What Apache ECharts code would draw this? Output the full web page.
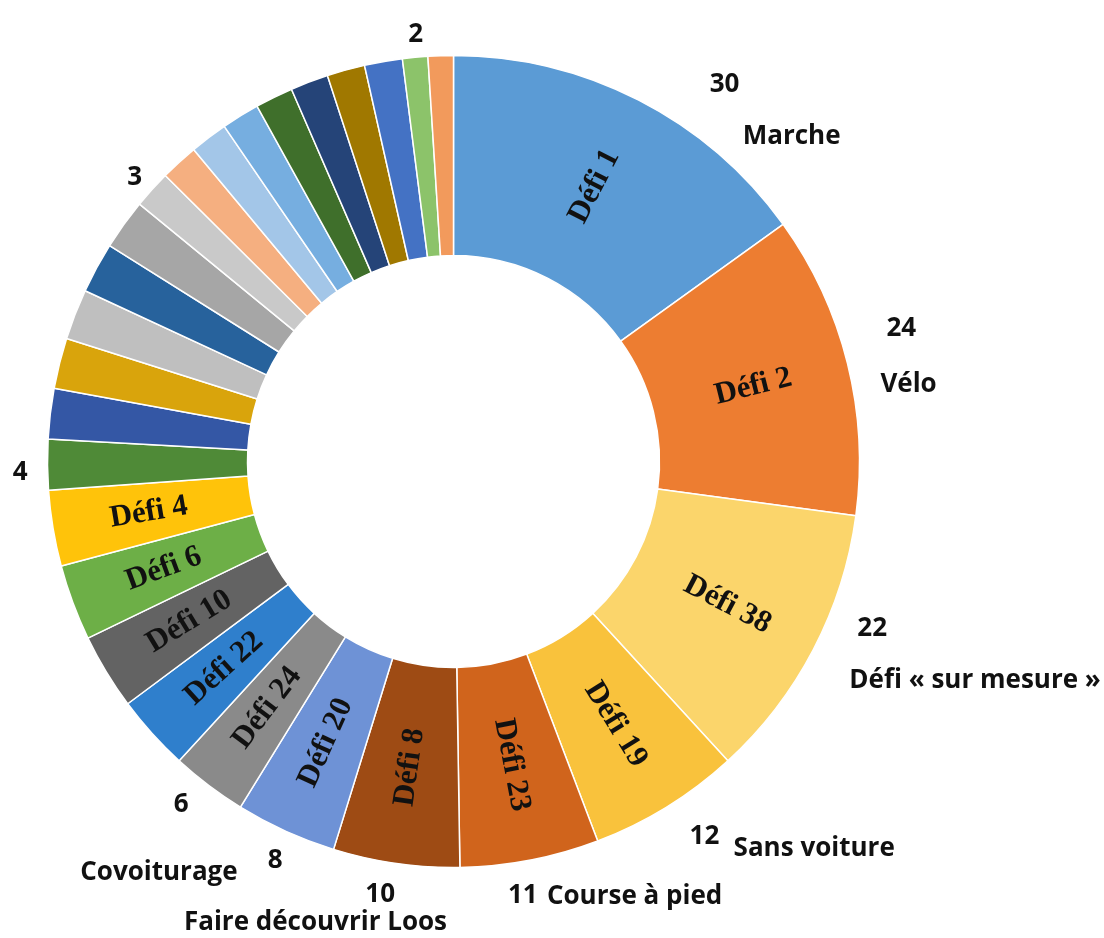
<!DOCTYPE html>
<html>
<head>
<meta charset="utf-8">
<script src="https://cdn.jsdelivr.net/npm/echarts@6/dist/echarts.min.js"></script>
<style>
html,body{margin:0;padding:0;background:#ffffff;}
#chart{width:1104px;height:938px;}
</style>
</head>
<body>
<div id="chart"></div>
<script>
// ---------- DATA ----------
// Slices in clockwise order starting at 12 o'clock
const defiLabels = ['Défi 1','Défi 2','Défi 38','Défi 19','Défi 23','Défi 8','Défi 20','Défi 24','Défi 22','Défi 10','Défi 6','Défi 4',
  '','','','','','','','','','','','','','','',''];
const values = [30,24,22,12,11,10,8,6,6,6,6,6,
  4,4,4,4,4,4,3,3,3,3,3,3,3,3,2,2];
const categoryNames = ['Marche','Vélo','Défi « sur mesure »','Sans voiture','Course à pied','Faire découvrir Loos','Covoiturage',
  '','','','','','','','','','','','','','','','','','','','',''];
// which slices carry a value label
const valueLabelShown = [true,true,true,true,true,true,true,true,false,false,false,false,
  true,false,false,false,false,false,true,false,false,false,false,false,false,false,true,false];

// ---------- STYLE / LAYOUT ----------
const colors = ['#5B9BD5','#ED7D31','#FBD56B','#F9C23C','#D0641C','#9E4B14','#6E92D6','#8A8A8A','#2F7FCC','#636363','#6DAF47','#FFC30A',
  '#4F8A37','#3457A5','#D9A40C','#BFBFBF','#27629C','#A6A6A6','#C9C9C9','#F5AF80','#A3C6E8','#76AEE0','#3F6F2B','#254478','#A07800','#4472C4','#8CC36A','#F29A5C'];
const valueOffsets = {0:[71,-16],1:[39,-35],2:[44,-21],3:[23,30],4:[-22,35],5:[-1,31],6:[-3,29],7:[-20,19],12:[-20,8],18:[-10,-12],26:[8,-23]};
const nameOffsets = {0:[104,36],1:[33,21],2:[36,31],3:[67,42],4:[17,36],5:[51,59],6:[-48,41]};

const CENTER = [453.5, 461.5];
const RADIUS = [206, 406];
const sansFont = 'Open Sans';

const chart = echarts.init(document.getElementById('chart'), null, {renderer:'canvas'});

const mainData = values.map((v,i)=>({
  value: v,
  name: defiLabels[i] || ('s' + i),
  itemStyle: {color: colors[i]},
  label: {show: !!defiLabels[i], formatter: defiLabels[i]}
}));
const valueData = values.map((v,i)=>({
  value: v,
  name: 'v' + i,
  label: {show: valueLabelShown[i]}
}));
const nameData = values.map((v,i)=>({
  value: v,
  name: 'n' + i,
  label: {show: !!categoryNames[i], formatter: categoryNames[i]}
}));

const outsideLabel = {
  position: 'outside',
  color: '#111',
  fontFamily: sansFont,
  fontWeight: 'bold',
  fontSize: 26,
  distanceToLabelLine: 0
};
const hiddenLine = {show:false, length:0, length2:0};

chart.setOption({
  backgroundColor: '#ffffff',
  animation: false,
  series: [
    {
      type: 'pie',
      center: CENTER,
      radius: RADIUS,
      startAngle: 90,
      clockwise: true,
      avoidLabelOverlap: false,
      silent: true,
      data: valueData,
      itemStyle: {color: 'rgba(0,0,0,0)', borderWidth: 0},
      label: Object.assign({formatter: '{c}'}, outsideLabel),
      labelLine: hiddenLine,
      labelLayout: function(p){ const o = valueOffsets[p.dataIndex]; return o ? {dx:o[0], dy:o[1]} : {}; },
      z: 1
    },
    {
      type: 'pie',
      center: CENTER,
      radius: RADIUS,
      startAngle: 90,
      clockwise: true,
      avoidLabelOverlap: false,
      silent: true,
      data: nameData,
      itemStyle: {color: 'rgba(0,0,0,0)', borderWidth: 0},
      label: Object.assign({}, outsideLabel),
      labelLine: hiddenLine,
      labelLayout: function(p){ const o = nameOffsets[p.dataIndex]; return o ? {dx:o[0], dy:o[1]} : {}; },
      z: 1
    },
    {
      type: 'pie',
      center: CENTER,
      radius: RADIUS,
      startAngle: 90,
      clockwise: true,
      avoidLabelOverlap: false,
      silent: true,
      data: mainData,
      itemStyle: {borderColor: '#ffffff', borderWidth: 1.5},
      label: {
        position: 'inside',
        rotate: 'radial',
        color: '#111',
        fontFamily: 'Liberation Serif',
        fontWeight: 'bold',
        fontSize: 31
      },
      labelLine: {show:false},
      z: 2
    }
  ]
});
</script>
</body>
</html>
